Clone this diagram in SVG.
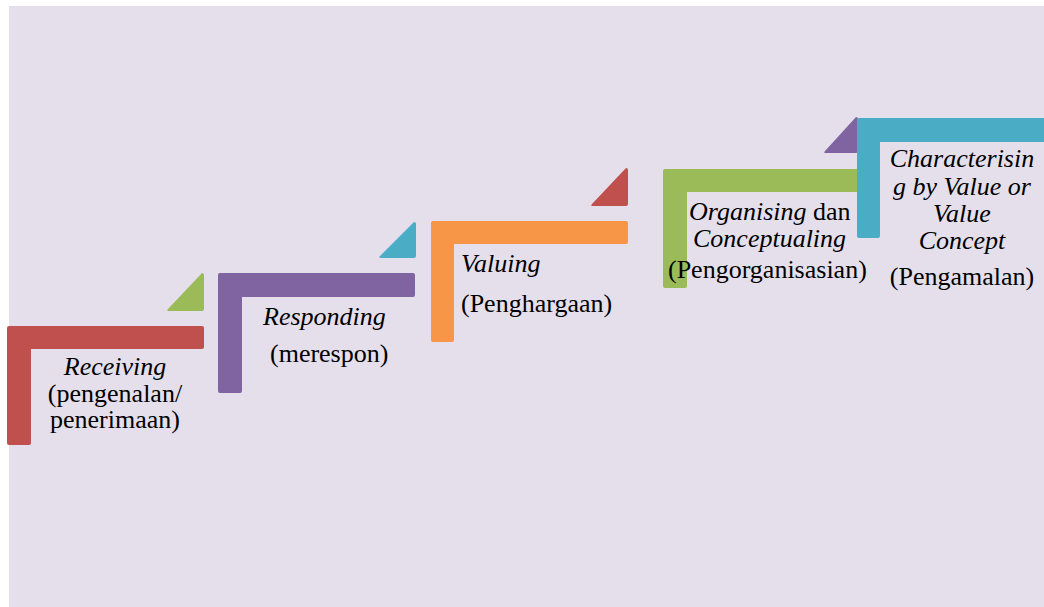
<svg xmlns="http://www.w3.org/2000/svg" width="1044" height="607" viewBox="0 0 1044 607">
<style>
text{font-family:'Liberation Serif','Times New Roman','DejaVu Serif',serif;font-size:26px;fill:#000}
.i{font-style:italic}
.r{fill:#C0504D}.g{fill:#9BBB59}.p{fill:#8064A2}.b{fill:#4BACC6}.o{fill:#F79646}
</style>
<rect x="0" y="0" width="1044" height="607" fill="#FFFFFF"/>
<rect x="9" y="6" width="1035" height="601" fill="#E5DFEC"/>
<g id="connectors"></g>
<g id="step1" font-family="Liberation Serif, serif">
<path class="r" d="M9,326 H202 Q204,326 204,328 V347 Q204,349 202,349 H31 V443 Q31,445 29,445 H9 Q7,445 7,443 V328 Q7,326 9,326 Z"/>
<path class="g" d="M202,273 Q204,273 204,275 V309 Q204,311 202,311 H169 Q166,311 168,309 Z"/>
<text class="i" x="115" y="375" text-anchor="middle">Receiving</text>
<text x="115" y="402" text-anchor="middle">(pengenalan/</text>
<text x="115" y="428" text-anchor="middle">penerimaan)</text>
</g>
<g id="step2">
<path class="p" d="M220,273 H413 Q415,273 415,275 V295 Q415,297 413,297 H242 V391 Q242,393 240,393 H220 Q218,393 218,391 V275 Q218,273 220,273 Z"/>
<path class="b" d="M414,222 Q416,222 416,224 V256 Q416,258 414,258 H381 Q378,258 380,256 Z"/>
<text class="i" x="263" y="325">Responding</text>
<text x="270" y="362">(merespon)</text>
</g>
<g id="step3">
<path class="o" d="M433,221 H626 Q628,221 628,223 V242 Q628,244 626,244 H454 V340 Q454,342 452,342 H433 Q431,342 431,340 V223 Q431,221 433,221 Z"/>
<path class="r" d="M626,168 Q628,168 628,170 V204 Q628,206 626,206 H593 Q590,206 592,204 Z"/>
<text class="i" x="461" y="272">Valuing</text>
<text x="461" y="312">(Penghargaan)</text>
</g>
<g id="step4">
<path class="g" d="M665,169 H860 V192 H687 V286 Q687,288 685,288 H665 Q663,288 663,286 V171 Q663,169 665,169 Z"/>
<path class="p" d="M856,117 Q858,117 858,119 V151 Q858,153 856,153 H826 Q823,153 825,151 Z"/>
<text x="689" y="220"><tspan class="i">Organising</tspan> dan</text>
<text class="i" x="693" y="247">Conceptualing</text>
<text x="668" y="278">(Pengorganisasian)</text>
</g>
<g id="step5">
<path class="b" d="M859,118 H1044 V142 H880 V236 Q880,238 878,238 H859 Q857,238 857,236 V120 Q857,118 859,118 Z"/>
<text class="i" x="962" y="167" text-anchor="middle">Characterisin</text>
<text class="i" x="962" y="195" text-anchor="middle">g by Value or</text>
<text class="i" x="962" y="222" text-anchor="middle">Value</text>
<text class="i" x="962" y="249" text-anchor="middle">Concept</text>
<text x="962" y="285" text-anchor="middle">(Pengamalan)</text>
</g>
</svg>
